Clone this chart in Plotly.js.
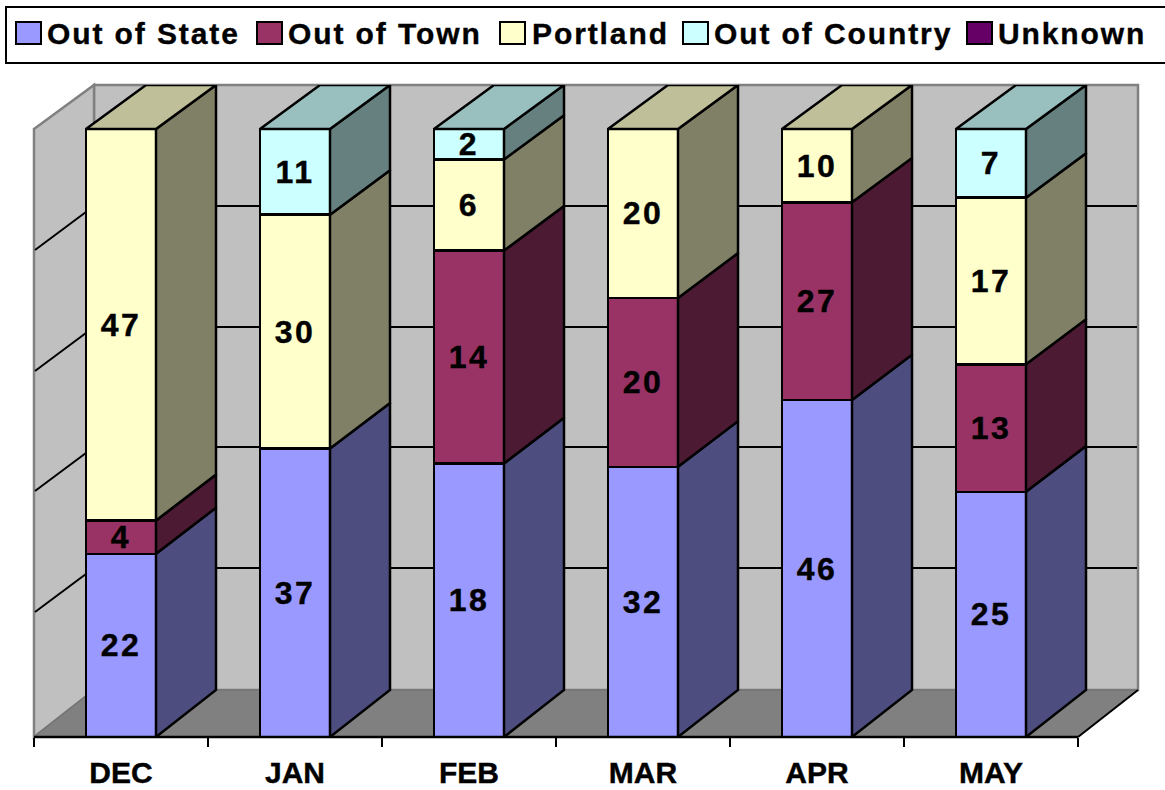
<!DOCTYPE html>
<html>
<head>
<meta charset="utf-8">
<script src="https://cdn.plot.ly/plotly-3.0.1.min.js"></script>
<style>
html,body{margin:0;padding:0;background:#fff;overflow:hidden}
.annotation-text{letter-spacing:1.9px;stroke:#000;stroke-width:.35px}
.bartext{letter-spacing:2.5px;stroke:#000;stroke-width:.4px}
.xtick text{stroke:#000;stroke-width:.4px}
</style>
</head>
<body>
<div id="chart" style="width:1165px;height:790px"></div>
<script>
const months = ['DEC','JAN','FEB','MAR','APR','MAY'];
const seriesNames = ['Out of State','Out of Town','Portland','Out of Country','Unknown'];
const outOfState = [22,37,18,32,46,25];
const outOfTown = [4,0,14,20,27,13];
const portland = [47,30,6,20,10,17];
const outOfCountry = [0,11,2,0,0,7];
const unknown = [0,0,0,0,0,0];
const seriesColors = ['#9999FF','#993366','#FFFFCC','#CCFFFF','#660066'];
const sideColors = ['#4D4D80','#4D1A33','#808066','#668080','#330033'];
const topColors = ['#7373BF','#73264D','#BFBF99','#99BFBF','#4D004D'];
const legendSwatchX = [16,257,500,683,967];
const legendTextX = [45,286,530,712,996];

const allSeries = [outOfState,outOfTown,portland,outOfCountry,unknown];

// pixel frame of the plot area
const L=34,R=1138,T=85,B=737,FH=790,FW=1165;
const px=x=>(x-L)/(R-L), py=y=>(B-y)/(B-T);
const pathOf=pts=>pts.map((p,i)=>(i?'L':'M')+px(p[0])+','+py(p[1])).join('')+'Z';

// bar geometry in axis units
const UNIT=174, PCT=6.08;
const barWidth=70/UNIT;
const depthX=60/UNIT;
const toBack=p=>47/PCT+0.995*p;
const EDGE=2.5;

const traces=[];
seriesNames.forEach((name,s)=>{
  traces.push({
    type:'bar',name,x:months,y:allSeries[s],
    marker:{color:seriesColors[s],line:{color:'#000',width:EDGE}},
    text:allSeries[s].map(v=>v>0?String(v):''),
    textposition:'inside',insidetextanchor:'middle',textangle:0,
    constraintext:'none',cliponaxis:false,
    insidetextfont:{family:'"Liberation Sans",Arial,sans-serif',size:32,color:'#000',weight:700},
    width:barWidth,hoverinfo:'name+y',showlegend:false
  });
});

// side and top faces, derived from the same stacked percentages
months.forEach((m,i)=>{
  const total=allSeries.reduce((a,v)=>a+v[i],0);
  let cum=0, lastSeries=0;
  allSeries.forEach((vals,s)=>{
    if(vals[i]<=0) return;
    const b=cum/total*100, t=(cum+vals[i])/total*100;
    cum+=vals[i]; lastSeries=s;
    const x0=i+barWidth/2, x1=x0+depthX;
    traces.push({type:'scatter',mode:'lines',xaxis:'x2',yaxis:'y',
      x:[x0,x1,x1,x0,x0],y:[b,toBack(b),toBack(t),t,b],
      fill:'toself',fillcolor:sideColors[s],line:{color:'#000',width:EDGE},
      hoverinfo:'skip',showlegend:false,cliponaxis:false});
  });
  const xl=i-barWidth/2,xr=i+barWidth/2;
  traces.push({type:'scatter',mode:'lines',xaxis:'x2',yaxis:'y',
    x:[xl,xr,xr+depthX,xl+depthX,xl],y:[100,100,toBack(100),toBack(100),100],
    fill:'toself',fillcolor:topColors[lastSeries],line:{color:'#000',width:EDGE},
    hoverinfo:'skip',showlegend:false,cliponaxis:false});
});

const shapes=[];
const lineP=(x0,y0,x1,y1,color,width,layer)=>shapes.push({type:'line',xref:'paper',yref:'paper',
  x0:px(x0),y0:py(y0),x1:px(x1),y1:py(y1),line:{color,width},layer:layer||'below'});
const poly=(pts,fill,color,width,layer)=>shapes.push({type:'path',xref:'paper',yref:'paper',
  path:pathOf(pts),fillcolor:fill,line:{color,width},layer:layer||'below'});

// walls and floor
poly([[94,85],[1138,85],[1138,690],[94,690]],'#C0C0C0','#808080',2.5);
poly([[34,129],[94,85],[94,690],[34,737]],'#C0C0C0','#808080',2.5);
poly([[34,737],[94,690],[1138,690],[1078,737]],'#808080','#6e6e6e',1);
// gridlines
[206,327,447,568].forEach(y=>{
  lineP(94,y,1137,y,'#000',2);
  lineP(35,y+44,94,y,'#000',2);
});
lineP(1078,737,1138,690,'#000',2);
// base line of the front edge
lineP(34,737,1078,737,'#000',2.5,'above');

// legend frame and swatches
shapes.push({type:'rect',xref:'paper',yref:'paper',x0:px(6),x1:px(1175),y0:py(7),y1:py(63),
  line:{color:'#000',width:2},fillcolor:'#fff',layer:'above'});
const annotations=[];
seriesNames.forEach((name,s)=>{
  shapes.push({type:'rect',xref:'paper',yref:'paper',
    x0:px(legendSwatchX[s]),x1:px(legendSwatchX[s]+25),y0:py(22),y1:py(44),
    fillcolor:seriesColors[s],line:{color:'#000',width:2},layer:'above'});
  annotations.push({xref:'paper',yref:'paper',x:px(legendTextX[s]),y:py(33),
    xanchor:'left',yanchor:'middle',text:'<b>'+name+'</b>',showarrow:false,
    font:{family:'"Liberation Sans",Arial,sans-serif',size:30,color:'#000'}});
});

const layout={
  width:FW,height:FH,
  margin:{l:L,r:FW-R,t:T,b:FH-B,pad:0},
  paper_bgcolor:'#fff',plot_bgcolor:'rgba(0,0,0,0)',
  barmode:'stack',barnorm:'percent',showlegend:false,
  xaxis:{type:'category',categoryorder:'array',categoryarray:months,
    range:[-0.5,-0.5+(R-L)/UNIT],fixedrange:true,
    tickson:'boundaries',ticks:'outside',ticklen:9,tickwidth:2,tickcolor:'#000',
    showgrid:false,zeroline:false,showline:false,automargin:false,
    ticklabelstandoff:15,
    tickfont:{family:'"Liberation Sans",Arial,sans-serif',size:30,color:'#000',weight:700}},
  xaxis2:{type:'linear',overlaying:'x',range:[-0.5,-0.5+(R-L)/UNIT],visible:false,fixedrange:true},
  yaxis:{range:[0,(B-T)/PCT],visible:false,fixedrange:true,automargin:false},
  shapes,annotations
};
Plotly.newPlot('chart',traces,layout,{displayModeBar:false,staticPlot:true});
</script>
</body>
</html>
